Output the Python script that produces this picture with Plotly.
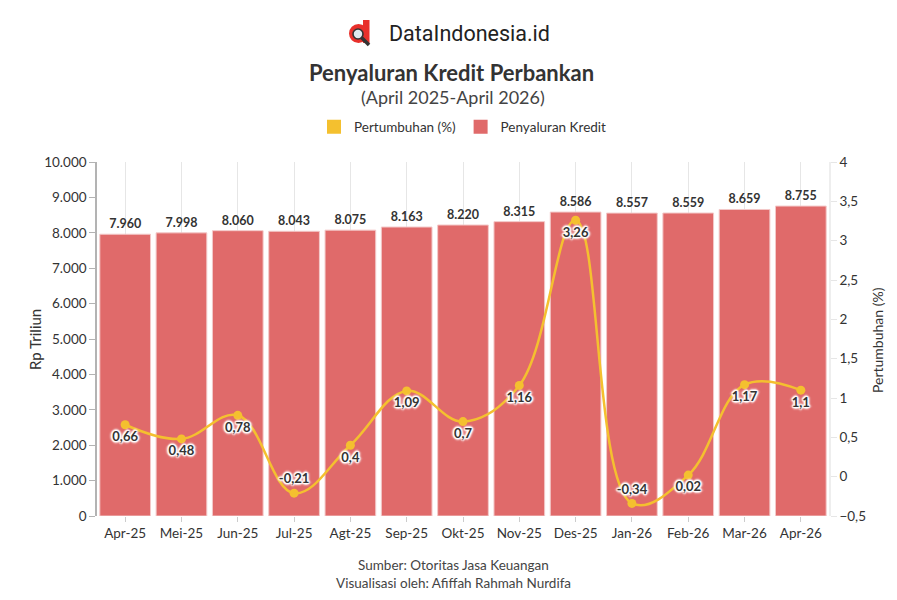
import plotly.graph_objects as go

categories = ["Apr-25", "Mei-25", "Jun-25", "Jul-25", "Agt-25", "Sep-25", "Okt-25",
              "Nov-25", "Des-25", "Jan-26", "Feb-26", "Mar-26", "Apr-26"]
kredit = [7960, 7998, 8060, 8043, 8075, 8163, 8220, 8315, 8586, 8557, 8559, 8659, 8755]
pertumbuhan = [0.66, 0.48, 0.78, -0.21, 0.4, 1.09, 0.7, 1.16, 3.26, -0.34, 0.02, 1.17, 1.1]
label_pos = ["bottom center"] * 13
label_pos[3] = "top center"
label_pos[9] = "top center"

FONT = "Lato"
BAR_COLOR = "#E06A6A"
LINE_COLOR = "#F4C02F"
halo = "1px 1px 1px #fff, -1px -1px 1px #fff, 1px -1px 1px #fff, -1px 1px 1px #fff, 0px 2px 2px #fff, 2px 0px 2px #fff, 0px -2px 2px #fff, -2px 0px 2px #fff"

L, R, T, B = 97, 68, 162, 84
W, H = 897, 600


def px(x):
    return (x - L) / (W - L - R)


def py(y):
    return 1 - (y - T) / (H - T - B)


fig = go.Figure()
fig.add_trace(go.Bar(
    x=categories, y=kredit, name="Penyaluran Kredit",
    marker=dict(color=BAR_COLOR, line=dict(color="#f3c9c9", width=1)),
    texttemplate="%{y:,.0f}", textposition="outside",
    textfont=dict(family=FONT, size=12.5, color="#333", weight="bold"),
    cliponaxis=False, showlegend=False, yaxis="y",
))
fig.add_trace(go.Scatter(
    x=categories, y=pertumbuhan, name="Pertumbuhan (%)", yaxis="y2",
    mode="lines+markers+text", line=dict(color=LINE_COLOR, width=2.5, shape="spline", smoothing=1.1),
    marker=dict(color=LINE_COLOR, size=9),
    text=[str(v).replace(".", ",") for v in pertumbuhan], textposition=label_pos,
    textfont=dict(family=FONT, size=13, color="#333", weight="bold", shadow=halo),
    cliponaxis=False, showlegend=False,
))
# legend entries
fig.add_trace(go.Scatter(x=[None], y=[None], mode="markers", name="Pertumbuhan (%)",
                         marker=dict(symbol="square", size=14, color=LINE_COLOR)))
fig.add_trace(go.Scatter(x=[None], y=[None], mode="markers", name="Penyaluran Kredit",
                         marker=dict(symbol="square", size=14, color=BAR_COLOR)))

annotations = [
    dict(text="DataIndonesia.id", x=387, y=33, xanchor="left",
         font=dict(size=21.5, color="#222", family="Roboto")),
    dict(text="<b>Penyaluran Kredit Perbankan</b>", x=451, y=72,
         font=dict(size=22, color="#333", family=FONT)),
    dict(text="(April 2025-April 2026)", x=453, y=97,
         font=dict(size=18, color="#444", family=FONT)),
    dict(text="Sumber: Otoritas Jasa Keuangan", x=453, y=565,
         font=dict(size=13.5, color="#444", family=FONT)),
    dict(text="Visualisasi oleh: Afiffah Rahmah Nurdifa", x=453, y=583,
         font=dict(size=13.5, color="#444", family=FONT)),
    dict(text="Rp Triliun", x=35, y=340, textangle=-90,
         font=dict(size=15, color="#333", family=FONT)),
    dict(text="Pertumbuhan (%)", x=877, y=340, textangle=-90,
         font=dict(size=14, color="#333", family=FONT)),
]
for a in annotations:
    a.setdefault("xanchor", "center")
    a.update(x=px(a["x"]), y=py(a["y"]), xref="paper", yref="paper",
             yanchor="middle", showarrow=False)

# logo icon
shapes = [
    dict(type="circle", x0=px(349), x1=px(368), y0=py(43), y1=py(24),
         fillcolor="#E8302B", line=dict(width=0)),
    dict(type="rect", x0=px(363), x1=px(369.5), y0=py(43), y1=py(20),
         fillcolor="#E8302B", line=dict(width=0)),
    dict(type="line", x0=px(361), y0=py(37), x1=px(369), y1=py(45),
         line=dict(color="#333", width=3.5)),
    dict(type="circle", x0=px(353), x1=px(363), y0=py(39), y1=py(29),
         fillcolor="#dfe9ee", line=dict(color="#333", width=1.6)),
]
for s in shapes:
    s.update(xref="paper", yref="paper", layer="above")

fig.update_layout(
    width=W, height=H, paper_bgcolor="white", plot_bgcolor="white",
    margin=dict(l=L, r=R, t=T, b=B, autoexpand=False),
    separators=",.", bargap=0.1,
    font=dict(family=FONT, color="#333", size=13),
    legend=dict(orientation="h", x=0.5, xanchor="center", y=1.055, yanchor="bottom",
                font=dict(family=FONT, size=13.5, color="#333"), itemwidth=30,
                tracegroupgap=0, traceorder="normal"),
    xaxis=dict(range=[-0.5, len(categories) - 0.5], showgrid=True, gridcolor="#e6e6e6",
               ticks="outside", ticklen=5,
               tickcolor="#ccc", tickfont=dict(size=13.5, color="#333"), showline=False,
               automargin=False),
    yaxis=dict(range=[0, 10000], dtick=1000, tickformat=",.0f", showgrid=False,
               zeroline=False, showline=True, linecolor="#b3b3b3", linewidth=1.5,
               ticks="outside", ticklen=6, tickcolor="#b3b3b3",
               tickfont=dict(size=13.5, color="#333"), automargin=False),
    yaxis2=dict(range=[-0.5, 4], dtick=0.5, overlaying="y", side="right", showgrid=False,
                zeroline=False, showline=True, linecolor="#eeeeee", linewidth=1.5,
                ticks="outside", ticklen=6, tickcolor="#e6e6e6",
                tickfont=dict(size=13.5, color="#333"), automargin=False),
    annotations=annotations,
    shapes=shapes,
)

fig.write_html("out.html")
